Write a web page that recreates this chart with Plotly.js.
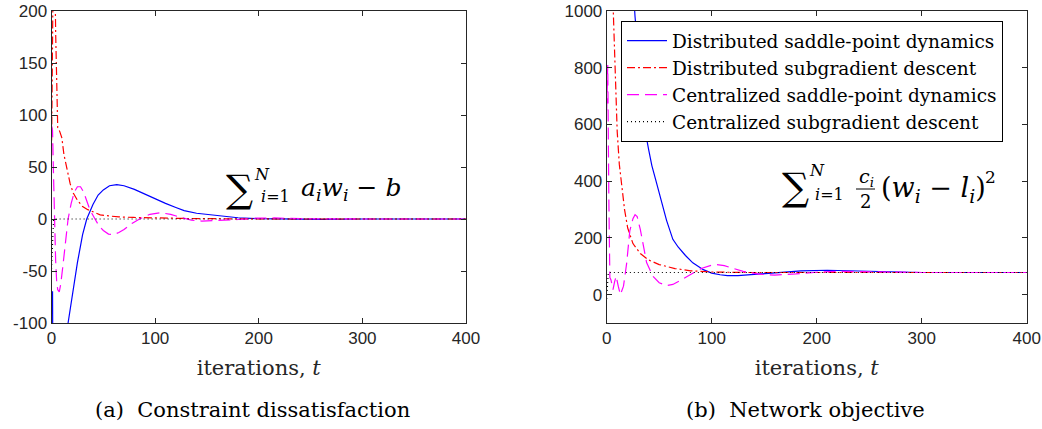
<!DOCTYPE html>
<html>
<head>
<meta charset="utf-8">
<script src="https://cdn.plot.ly/plotly-3.0.1.min.js"></script>
<style>html,body{margin:0;padding:0;background:#fff;}#chart{width:1042px;height:429px;}</style>
</head>
<body>
<div id="chart"></div>
<script>
// ---------- data ----------
const seriesNames = ['Distributed saddle-point dynamics','Distributed subgradient descent','Centralized saddle-point dynamics','Centralized subgradient descent'];
const xTicks = [0,100,200,300,400];
const leftYTicks = [-100,-50,0,50,100,150,200];
const rightYTicks = [0,200,400,600,800,1000];

// (a) constraint dissatisfaction
const aBlueT = [0,1,2,4,8,12,16,20,25,30,34,40,45,50,56,63,70,80,90,100,110,120,128,140,160,180,200,230,260,300,350,400];
const aBlueV = [-70,-70,-300,-380,-300,-190,-100,-72,-42,-15,0,14,23,28,32,33,32,28.5,24,19,15,11,8,5.5,3,1.2,0.3,-0.3,-0.3,0,0,0];
const aRedT = [0,1,2,3,4,5,6,8,10,12,15,18,21,25,30,35,40,47,55,65,79,100,130,170,220,400];
const aRedV = [60,160,280,260,180,110,88,84,78,62,48,34,25,18,12,9,7,4,3,2,1.5,1,0.5,0.2,0,0];
const aMagT = [0,1,2,3,4,5,6,7.5,9,11,13,16,19,22,25,28,31,34,37,42,46,50,55,60,65,70,78,85,95,105,115,125,135,145,160,180,200,215,240,270,300,400];
const aMagV = [90,85,40,-10,-40,-60,-68,-70,-62,-45,-25,0,15,26,31,31,26,18,9,0,-7,-11,-14.5,-15,-13,-10,-4,0,4.5,6,4.5,1.5,-1,-2,-1.5,-0.5,0.8,1,0.3,-0.2,0,0];
const aBlkT = [0,1,2,400];
const aBlkV = [-48,-20,0,0];

// (b) network objective
const bBlueT = [0,5,10,15,20,24,27,30,33,36,40,43,47,51,57,63,68,75,82,92,100,108,115,125,140,160,185,210,240,270,300,350,400];
const bBlueV = [3800,3000,2400,1900,1450,1150,980,840,700,590,510,455,400,345,262,195,168,138,112,88,76,70,67,67,71,78,84,86,84,80,78,78,78];
const bRedT = [0,2,4,6,7,8,9,10,12,14,17,20,25,32,40,50,65,80,100,130,170,400];
const bRedV = [2500,1600,1200,1030,920,815,690,575,460,390,300,235,180,145,122,106,92,84,80,78,78,78];
const bMagT = [0,1,2,3,4,5,6,7.5,9,11,13,16,19,22,25,27,29,32,36,38,44,50,57,63,70,80,90,100,105,112,120,130,145,160,180,200,220,250,300,400];
const bMagV = [650,810,350,60,53,35,18,45,65,30,0,30,110,225,268,282,275,230,150,113,65,42,32,36,50,72,92,104,106,102,94,82,72,69,73,79,82,80,78,78];
const bBlkT = [0,1,1.5,400];
const bBlkV = [-15,40,78,78];

// ---------- styling ----------
const W = 1042, H = 429;
const px = x => x / W, py = y => 1 - y / H;
const SERIF = 'DejaVu Serif';
const SANS = 'Liberation Sans, Arial, sans-serif';
const AX = '#262626';
const styles = [
  {color:'#0000ff', width:1.2, dash:'solid'},
  {color:'#ff0000', width:1.2, dash:'8px,3px,2px,3px'},
  {color:'#ff00ff', width:1.2, dash:'12px,6px'},
  {color:'#000000', width:1.2, dash:'1px,3px'}
];

function tr(t, v, i, xa, ya, show){
  return {x:t, y:v, type:'scatter', mode:'lines', name:seriesNames[i], xaxis:xa, yaxis:ya,
    line:Object.assign({}, styles[i]), showlegend:show, legendgroup:'g'+i, hoverinfo:'skip'};
}
const data = [
  tr(aBlueT,aBlueV,0,'x','y',false), tr(aRedT,aRedV,1,'x','y',false),
  tr(aMagT,aMagV,2,'x','y',false), tr(aBlkT,aBlkV,3,'x','y',false),
  tr(bBlueT,bBlueV,0,'x2','y2',true), tr(bRedT,bRedV,1,'x2','y2',true),
  tr(bMagT,bMagV,2,'x2','y2',true), tr(bBlkT,bBlkV,3,'x2','y2',true)
];

function xaxis(dom, anchor){
  return {domain:dom, anchor:anchor, range:[0,400], tickvals:xTicks, ticktext:xTicks.map(String),
    showgrid:false, zeroline:false, showline:true, linecolor:AX, linewidth:1, mirror:'ticks',
    ticks:'inside', ticklen:5, tickcolor:AX, tickfont:{family:SANS, size:17, color:AX},
    title:{text:'iterations, <i>t</i>', font:{family:SERIF, size:21, color:AX}, standoff:12}};
}
function yaxis(dom, anchor, rng, tv){
  return {domain:dom, anchor:anchor, range:rng, tickvals:tv, ticktext:tv.map(String),
    showgrid:false, zeroline:false, showline:true, linecolor:AX, linewidth:1, mirror:'ticks',
    ticks:'inside', ticklen:5, tickcolor:AX, tickfont:{family:SANS, size:17, color:AX}};
}
const yDom = [py(323), py(11)];
const ann = [];
function A(text, x, y, size, opts){
  ann.push(Object.assign({text:text, xref:'paper', yref:'paper', x:px(x), y:py(y), showarrow:false,
    font:{family:SERIF, size:size, color:'#000'}, xanchor:'center', yanchor:'middle'}, opts||{}));
}
// captions
A('(a)  Constraint dissatisfaction', 252, 410, 21);
A('(b)  Network objective', 805, 410, 21);
// formula (a)
A('∑', 239, 189, 38);
A('<i>N</i>', 262, 174, 16);
A('<i>i</i>=1', 275, 196, 16);
A('<i>a<sub>i</sub>w<sub>i</sub></i> − <i>b</i>', 299, 189, 25, {xanchor:'left'});
// formula (b)
A('∑', 795, 187, 38);
A('<i>N</i>', 817, 171, 16);
A('<i>i</i>=1', 829, 194, 16);
A('<i>c<sub>i</sub></i>', 866, 178, 19);
A('2', 865, 201, 18);
A('(<i>w<sub>i</sub></i> − <i>l<sub>i</sub></i>)', 879, 189, 27, {xanchor:'left'});
A('2', 990, 177, 17);

const layout = {
  width:W, height:H, margin:{l:0,r:0,t:0,b:0}, paper_bgcolor:'#fff', plot_bgcolor:'#fff',
  xaxis: xaxis([px(51.5), px(466)], 'y'),
  yaxis: yaxis(yDom, 'x', [-100,200], leftYTicks),
  xaxis2: xaxis([px(606.7), px(1026.7)], 'y2'),
  yaxis2: yaxis(yDom, 'x2', [-100,1000], rightYTicks),
  showlegend:true,
  legend:{x:px(621), y:py(21), xanchor:'left', yanchor:'top', bgcolor:'#fff', bordercolor:'#000', borderwidth:1,
    font:{family:SERIF, size:18.5, color:'#000'}, itemwidth:40, traceorder:'grouped', tracegroupgap:0},
  annotations: ann,
  shapes:[{type:'line', xref:'paper', yref:'paper', x0:px(856), x1:px(875), y0:py(189), y1:py(189), line:{color:'#000', width:1}}]
};
Plotly.newPlot('chart', data, layout, {staticPlot:true, displayModeBar:false});
</script>
</body>
</html>
